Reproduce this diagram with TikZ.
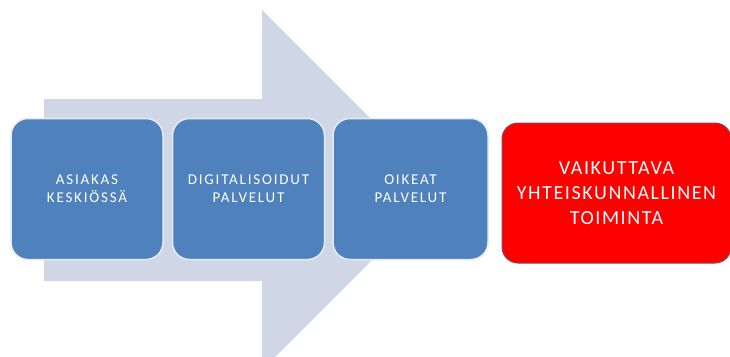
\documentclass[tikz,border=0pt]{standalone}
\usepackage{fontspec}
\setmainfont{Carlito}
\newfontfamily\boxfont[LetterSpace=12]{Carlito}
\newfontfamily\redfont[LetterSpace=8]{Carlito}
\definecolor{arrowc}{HTML}{CFD6E6}
\definecolor{boxblue}{HTML}{4F81BD}
\definecolor{boxedge}{HTML}{E4ECF6}
\definecolor{rededge}{HTML}{7A4A5A}
\begin{document}
\begin{tikzpicture}[x=1pt,y=-1pt,
  bluebox/.style={draw=boxedge, line width=1.5pt, fill=boxblue, rounded corners=17pt,
    minimum width=152pt, minimum height=141pt, inner sep=0pt, align=center,
    text=white, font=\boxfont\fontsize{15}{18}\selectfont},
  redbox/.style={draw=rededge, line width=1pt, fill=red, rounded corners=16pt,
    minimum width=229pt, minimum height=140pt, inner sep=0pt, align=center,
    text=white, font=\redfont\fontsize{20}{25}\selectfont}]
\useasboundingbox (0,0) rectangle (730,356);
\fill[arrowc] (44,99) -- (262,99) -- (262,10) -- (442,190) -- (262,370) -- (262,281) -- (44,281) -- cycle;
\node[bluebox] (b1) at (87,189) {ASIAKAS\\KESKIÖSSÄ};
\node[bluebox] (b2) at (248.5,189) {DIGITALISOIDUT\\PALVELUT};
\node[bluebox, minimum width=155pt] (b3) at (410.5,189) {OIKEAT\\PALVELUT};
\node[redbox] (r) at (616.5,193) {VAIKUTTAVA\\YHTEISKUNNALLINEN\\TOIMINTA};
\end{tikzpicture}
\end{document}
